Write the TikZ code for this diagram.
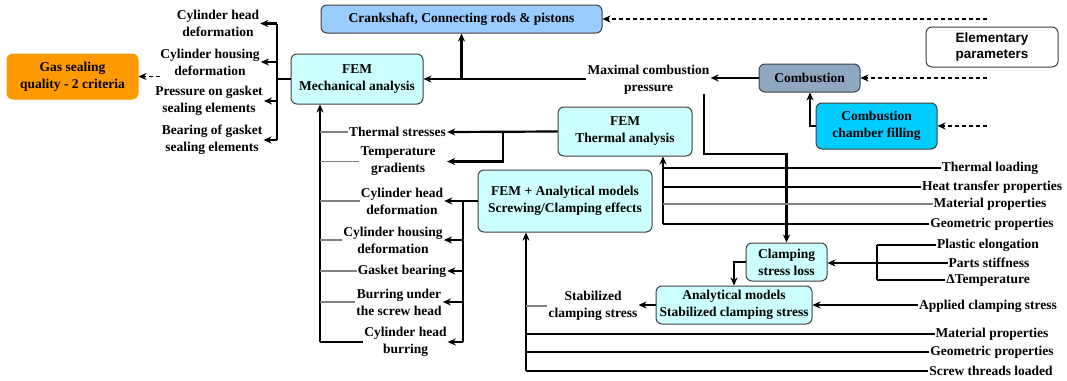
\documentclass[tikz,border=0pt]{standalone}
\usepackage{fontspec}
\setmainfont{Liberation Serif}
\newfontfamily\arialfont{Liberation Sans}
\usetikzlibrary{arrows.meta}
\definecolor{cyanbox}{HTML}{CCFFFF}
\definecolor{crankc}{HTML}{99CCFF}
\definecolor{combc}{HTML}{8FA7C0}
\definecolor{fillc}{HTML}{00CCFF}
\definecolor{gasc}{HTML}{FF9900}
\definecolor{boxline}{HTML}{404040}
\newcommand{\dgfont}{\fontsize{13.5}{17}\selectfont\bfseries}
\begin{document}
\begin{tikzpicture}[x=1pt,y=-1pt,
  box/.style={draw=boxline,line width=1pt,rounded corners=6pt,align=center,inner sep=0pt,font=\dgfont},
  lbl/.style={align=center,inner sep=1pt,font=\dgfont},
  thk/.style={line width=2.2pt},
  thn/.style={line width=1.1pt},
  gry/.style={line width=1.1pt,draw=gray},
  arr/.style={-{Stealth[length=8pt,width=7pt,inset=2.5pt]}},
  dsh/.style={line width=1.5pt,dash pattern=on 4pt off 3pt}
]
\useasboundingbox (0,0) rectangle (1067,380);

% boxes
\node[box,fill=gasc,draw=gasc,minimum width=131pt,minimum height=45pt] (gas) at (72.5,76.5) {Gas sealing\\quality - 2 criteria};
\node[box,fill=crankc,minimum width=281pt,minimum height=28pt] (crank) at (461.5,19) {Crankshaft, Connecting rods \& pistons};
\node[box,fill=cyanbox,minimum width=132pt,minimum height=50pt] (mech) at (357,79) {FEM\\Mechanical analysis};
\node[box,fill=white,font=\arialfont\fontsize{13.5}{16}\selectfont\bfseries,minimum width=132pt,minimum height=40pt] (elem) at (992,47) {Elementary\\parameters};
\node[box,fill=combc,minimum width=101pt,minimum height=28pt] (comb) at (809.5,78) {Combustion};
\node[box,fill=fillc,minimum width=121pt,minimum height=46pt] (fill) at (876.5,126) {Combustion\\chamber filling};
\node[box,fill=cyanbox,minimum width=134pt,minimum height=49pt] (thermal) at (625,131.5) {FEM\\Thermal analysis};
\node[box,fill=cyanbox,minimum width=174pt,minimum height=62pt] (screw) at (565,201) {FEM + Analytical models\\Screwing/Clamping effects};
\node[box,fill=cyanbox,minimum width=81pt,minimum height=38pt] (clamp) at (786.5,262) {Clamping\\stress loss};
\node[box,fill=cyanbox,minimum width=156pt,minimum height=38pt] (anal) at (734,305) {Analytical models\\Stabilized clamping stress};

% labels left of mech
\node[lbl] (l1) at (218,23.5) {Cylinder head\\deformation};
\node[lbl] (l2) at (210,62) {Cylinder housing\\deformation};
\node[lbl] (l3) at (209,101) {Pressure on gasket\\sealing elements};
\node[lbl] (l4) at (212,140) {Bearing of gasket\\sealing elements};

\node[lbl] (maxp) at (648.5,79.5) {Maximal combustion\\pressure};

% middle labels
\node[lbl] (ts) at (397.5,132) {Thermal stresses};
\node[lbl] (tg) at (398,161.5) {Temperature\\gradients};
\node[lbl] (s1) at (402,201) {Cylinder head\\deformation};
\node[lbl] (s2) at (393,240) {Cylinder housing\\deformation};
\node[lbl] (s3) at (402,271) {Gasket bearing};
\node[lbl] (s4) at (399,302) {Burring under\\the screw head};
\node[lbl] (s5) at (405.5,342) {Cylinder head\\burring};
\node[lbl] (stab) at (593,306) {Stabilized\\clamping stress};

% right labels
\node[lbl] (tl) at (990,168) {Thermal loading};
\node[lbl] (htp) at (992,187) {Heat transfer properties};
\node[lbl] (mp1) at (990,204) {Material properties};
\node[lbl] (gp1) at (992,224) {Geometric properties};
\node[lbl] (pe) at (988,245) {Plastic elongation};
\node[lbl] (ps) at (989,263) {Parts stiffness};
\node[lbl] (dt) at (988,280) {ΔTemperature};
\node[lbl] (acs) at (988,306) {Applied clamping stress};
\node[lbl] (mp2) at (992,334) {Material properties};
\node[lbl] (gp2) at (992,352) {Geometric properties};
\node[lbl] (stl) at (991,371) {Screw threads loaded};

% coordinates
\coordinate (bx) at (277,0);
\coordinate (gd) at (160,76.5);
\coordinate (dx) at (987,0);
\coordinate (pv) at (704,94);
\coordinate (pc) at (704,154);
\coordinate (tj) at (503,131.5);
\coordinate (sx) at (463,0);
\coordinate (mx) at (320,0);
\coordinate (tx) at (663,0);
\coordinate (sxx) at (526,0);
\coordinate (cx) at (877,0);
\coordinate (ca) at (734,0);
\coordinate (fc) at (810,0);

% mech outputs
\draw[thk] (mech.west) -- (bx |- mech.west);
\draw[thk] (bx |- l1.east) -- (bx |- l4.east);
\foreach \n in {l1,l2,l3,l4} \draw[thk,arr] (bx |- \n.east) -- (\n.east);
\draw[dsh,arr] (gd) -- (gas.east);

% top area
\draw[dsh,arr] (dx |- crank.east) -- (crank.east);
\draw[dsh,arr] (dx |- comb.east) -- (comb.east);
\draw[dsh,arr] (dx |- fill.east) -- (fill.east);
\draw[thk,arr] (mech.east -| maxp.west) -- (mech.east);
\draw[thk,arr] (crank.south |- mech.east) -- (crank.south);
\draw[thk,arr] (comb.west) -- (maxp.east |- comb.west);
\draw[thk,arr] (fill.west) -| (fc |- comb.south);
\draw[thk,arr] (pv) -- (pc) -| (clamp.north);

% thermal outputs
\draw[thk,arr] (thermal.west) -- (ts.east);
\draw[thk,arr] (tj) |- (ts.east |- tg.east);

% screw outputs
\draw[thk] (screw.west) -- (sx |- screw.west);
\draw[thk] (sx |- screw.west) -- (sx |- s5.east);
\foreach \n in {s1,s2,s3,s4,s5} \draw[thk,arr] (sx |- \n.east) -- (\n.east);

% mech inputs
\draw[thk,arr] (mx |- s5.west) -- (mx |- mech.south);
\draw[thk] (mx |- s5.west) -- (s5.west);
\foreach \n in {ts,tg,s1,s2,s3,s4} \draw[gry] (mx |- \n.west) -- (\n.west);

% thermal inputs
\draw[thk,arr] (tx |- gp1.west) -- (tx |- thermal.south);
\draw[thn] (tx |- tl.west) -- (tl.west);
\draw[thn] (tx |- htp.west) -- (htp.west);
\draw[gry] (tx |- mp1.west) -- (mp1.west);
\draw[thk] (tx |- gp1.west) -- (gp1.west);

% screw inputs
\draw[thk,arr] (sxx |- stl.west) -- (sxx |- screw.south);
\draw[gry] (sxx |- stab.west) -- (stab.west);
\draw[thk] (sxx |- mp2.west) -- (mp2.west);
\draw[thk] (sxx |- gp2.west) -- (gp2.west);
\draw[line width=2.8pt] (sxx |- stl.west) -- (stl.west);

% clamping
\draw[thk] (cx |- pe.west) -- (cx |- dt.west);
\foreach \n in {pe,ps,dt} \draw[thk] (cx |- \n.west) -- (\n.west);
\draw[thk,arr] (cx |- ps.west) -- (clamp.east |- ps.west);
\draw[thk,arr] (clamp.west) -| (ca |- anal.north);
\draw[thk,arr] (anal.east -| acs.west) -- (anal.east);
\draw[thk,arr] (anal.west) -- (stab.east |- anal.west);
\end{tikzpicture}
\end{document}
